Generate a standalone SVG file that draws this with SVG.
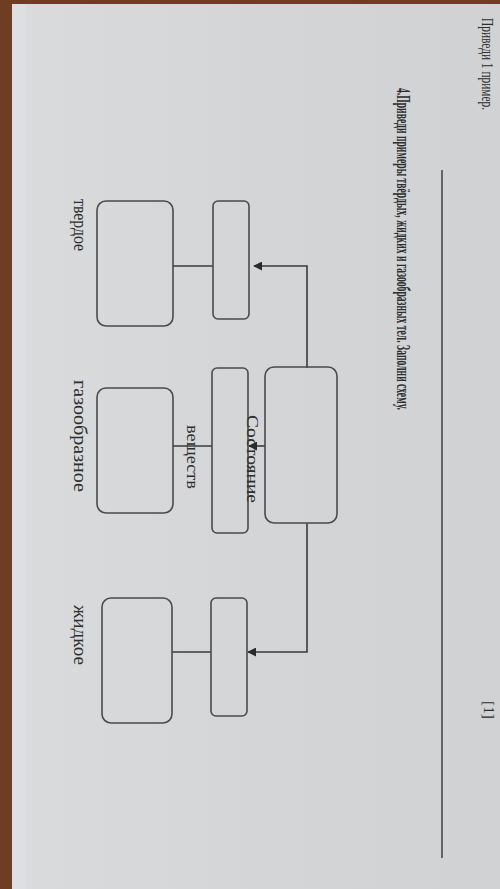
<svg xmlns="http://www.w3.org/2000/svg" width="500" height="889" viewBox="0 0 500 889">
<defs>
<linearGradient id="paper" x1="0" y1="0" x2="1" y2="0">
<stop offset="0" stop-color="#d9dbdd"/>
<stop offset="0.5" stop-color="#d3d5d7"/>
<stop offset="1" stop-color="#d0d2d4"/>
</linearGradient>
<marker id="arr" viewBox="0 0 10 10" refX="9" refY="5" markerWidth="9" markerHeight="9" markerUnits="userSpaceOnUse" orient="auto">
<path d="M0,0 L10,5 L0,10 z" fill="#2a2a2a"/>
</marker>
<style>
.box{fill:none;stroke:#4a4a4a;stroke-width:1.6}
.ln{fill:none;stroke:#3a3a3a;stroke-width:1.6}
.t{font-family:"Liberation Serif","DejaVu Serif",serif;fill:#2e2e2e}
</style>
</defs>
<rect x="0" y="0" width="500" height="889" fill="#6e3d24"/>
<rect x="12" y="4" width="488" height="885" fill="url(#paper)"/>
<rect x="12" y="4" width="14" height="885" fill="#dfe1e3" opacity="0.6"/>

<g id="header">
<text class="t" font-size="16" transform="translate(482,18) rotate(90)" textLength="92" lengthAdjust="spacingAndGlyphs">Приведи 1 пример.</text>
<text class="t" font-size="15" transform="translate(484,701) rotate(90)" textLength="18" lengthAdjust="spacingAndGlyphs">[1]</text>
<line x1="442" y1="170" x2="442" y2="858" stroke="#4a4a4a" stroke-width="1.6"/>
<text class="t" font-size="19" font-weight="bold" transform="translate(397,88) rotate(90)" textLength="322" lengthAdjust="spacingAndGlyphs">4.Приведи примеры твёрдых, жидких и газообразных тел. Заполни схему.</text>
</g>

<g id="connectors">
<polyline class="ln" points="307,368 307,266 254,266" marker-end="url(#arr)"/>
<polyline class="ln" points="307,523 307,652 248,652" marker-end="url(#arr)"/>
<line class="ln" x1="265" y1="446" x2="249" y2="446" marker-end="url(#arr)"/>
<line class="ln" x1="173" y1="266" x2="213" y2="266"/>
<line class="ln" x1="173" y1="446" x2="212" y2="446"/>
<line class="ln" x1="172" y1="652" x2="211" y2="652"/>
</g>

<g id="center">
<rect class="box" x="265" y="367" width="72" height="156" rx="9"/>
</g>

<g id="state-small">
<rect class="box" x="212" y="368" width="36" height="165" rx="5"/>
<text class="t" font-size="17" transform="translate(247,415) rotate(90)" textLength="88" lengthAdjust="spacingAndGlyphs">Состояние</text>
<text class="t" font-size="17" transform="translate(187,425) rotate(90)" textLength="64" lengthAdjust="spacingAndGlyphs">веществ</text>
</g>

<g id="top-small">
<rect class="box" x="213" y="201" width="36" height="118" rx="5"/>
</g>
<g id="bottom-small">
<rect class="box" x="211" y="598" width="36" height="118" rx="5"/>
</g>

<g id="solid">
<rect class="box" x="97" y="201" width="76" height="125" rx="9"/>
<text class="t" font-size="18" transform="translate(74,199) rotate(90)" textLength="52" lengthAdjust="spacingAndGlyphs">твердое</text>
</g>
<g id="gas">
<rect class="box" x="97" y="388" width="76" height="125" rx="9"/>
<text class="t" font-size="18" transform="translate(74,380) rotate(90)" textLength="112" lengthAdjust="spacingAndGlyphs">газообразное</text>
</g>
<g id="liquid">
<rect class="box" x="102" y="598" width="70" height="125" rx="9"/>
<text class="t" font-size="18" transform="translate(74,605) rotate(90)" textLength="60" lengthAdjust="spacingAndGlyphs">жидкое</text>
</g>
</svg>
